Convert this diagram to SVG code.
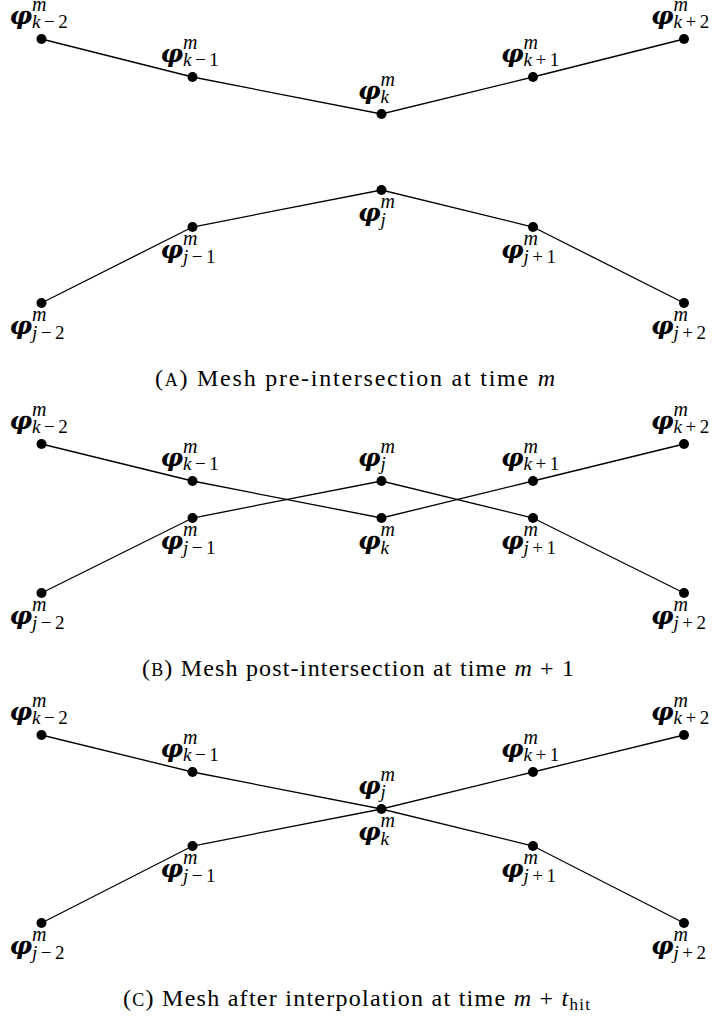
<svg xmlns="http://www.w3.org/2000/svg" width="712" height="1017" viewBox="0 0 712 1017">
<style>
.bg{fill:#fff}
.n circle{fill:#000}
.lb{font-family:"Liberation Serif","DejaVu Serif",serif;font-size:19px;fill:#000}
.phi{font-family:"DejaVu Serif","Liberation Serif",serif;font-weight:bold;font-style:italic;font-size:25px;text-anchor:end}
.sup{font-size:20px;font-style:italic;text-anchor:start}
.sub{letter-spacing:3.5px;text-anchor:start}
.it{font-style:italic}
.cap{font-family:"Liberation Serif",serif;font-size:24px;fill:#000;text-anchor:middle}
.small{font-size:18px}
.edges path{fill:none;stroke:#000;stroke-width:1.3}
</style>
<rect class="bg" width="712" height="1017"/>
<g class="edges" id="connectors">
<path d="M41.5,39 L192.5,77 L381.5,114 L533,77 L684,39"/>
<path d="M41.5,303 L192.5,227 L381.5,190 L533,227 L684,303"/>
<path d="M41.5,444 L192.5,481 L381.5,518 L533,481 L684,444"/>
<path d="M41.5,593 L192.5,518 L381.5,481 L533,518 L684,593"/>
<path d="M41.5,735 L192.5,772 L381.5,809 L533,772 L684,735"/>
<path d="M41.5,923 L192.5,846 L381.5,809 L533,846 L684,923"/>
</g>
<!-- Panel A -->
<g class="n" id="a-km2"><circle cx="41.5" cy="39" r="5"/><text class="lb"><tspan class="phi" x="32" y="24">φ</tspan><tspan class="sup" x="32" y="11">m</tspan><tspan class="sub" x="32" y="28"><tspan class="it">k</tspan>−2</tspan></text></g>
<g class="n" id="a-km1"><circle cx="192.5" cy="77" r="5"/><text class="lb"><tspan class="phi" x="183" y="62">φ</tspan><tspan class="sup" x="183" y="49">m</tspan><tspan class="sub" x="183" y="66"><tspan class="it">k</tspan>−1</tspan></text></g>
<g class="n" id="a-k"><circle cx="381.5" cy="114" r="5"/><text class="lb"><tspan class="phi" x="380.5" y="99">φ</tspan><tspan class="sup" x="380.5" y="86">m</tspan><tspan class="it sub" x="380.5" y="103">k</tspan></text></g>
<g class="n" id="a-kp1"><circle cx="533" cy="77" r="5"/><text class="lb"><tspan class="phi" x="523.5" y="62">φ</tspan><tspan class="sup" x="523.5" y="49">m</tspan><tspan class="sub" x="523.5" y="66"><tspan class="it">k</tspan>+1</tspan></text></g>
<g class="n" id="a-kp2"><circle cx="684" cy="39" r="5"/><text class="lb"><tspan class="phi" x="673.5" y="24">φ</tspan><tspan class="sup" x="673.5" y="11">m</tspan><tspan class="sub" x="673.5" y="28"><tspan class="it">k</tspan>+2</tspan></text></g>
<g class="n" id="a-j"><circle cx="381.5" cy="190" r="5"/><text class="lb"><tspan class="phi" x="380.5" y="221">φ</tspan><tspan class="sup" x="380.5" y="208">m</tspan><tspan class="it sub" x="380.5" y="226">j</tspan></text></g>
<g class="n" id="a-jm1"><circle cx="192.5" cy="227" r="5"/><text class="lb"><tspan class="phi" x="183" y="258">φ</tspan><tspan class="sup" x="183" y="245">m</tspan><tspan class="sub" x="183" y="263"><tspan class="it">j</tspan>−1</tspan></text></g>
<g class="n" id="a-jp1"><circle cx="533" cy="227" r="5"/><text class="lb"><tspan class="phi" x="523.5" y="258">φ</tspan><tspan class="sup" x="523.5" y="245">m</tspan><tspan class="sub" x="523.5" y="263"><tspan class="it">j</tspan>+1</tspan></text></g>
<g class="n" id="a-jm2"><circle cx="41.5" cy="303" r="5"/><text class="lb"><tspan class="phi" x="32" y="334">φ</tspan><tspan class="sup" x="32" y="321">m</tspan><tspan class="sub" x="32" y="339"><tspan class="it">j</tspan>−2</tspan></text></g>
<g class="n" id="a-jp2"><circle cx="684" cy="303" r="5"/><text class="lb"><tspan class="phi" x="673.5" y="334">φ</tspan><tspan class="sup" x="673.5" y="321">m</tspan><tspan class="sub" x="673.5" y="339"><tspan class="it">j</tspan>+2</tspan></text></g>
<text class="cap" id="cap-a" x="355" y="386" textLength="400" lengthAdjust="spacing">(<tspan class="small">A</tspan>) Mesh pre-intersection at time <tspan class="it">m</tspan></text>
<!-- Panel B -->
<g class="n" id="b-km2"><circle cx="41.5" cy="444" r="5"/><text class="lb"><tspan class="phi" x="32" y="429">φ</tspan><tspan class="sup" x="32" y="416">m</tspan><tspan class="sub" x="32" y="433"><tspan class="it">k</tspan>−2</tspan></text></g>
<g class="n" id="b-km1"><circle cx="192.5" cy="481" r="5"/><text class="lb"><tspan class="phi" x="183" y="466">φ</tspan><tspan class="sup" x="183" y="453">m</tspan><tspan class="sub" x="183" y="470"><tspan class="it">k</tspan>−1</tspan></text></g>
<g class="n" id="b-j"><circle cx="381.5" cy="481" r="5"/><text class="lb"><tspan class="phi" x="380.5" y="466">φ</tspan><tspan class="sup" x="380.5" y="453">m</tspan><tspan class="it sub" x="380.5" y="470">j</tspan></text></g>
<g class="n" id="b-kp1"><circle cx="533" cy="481" r="5"/><text class="lb"><tspan class="phi" x="523.5" y="466">φ</tspan><tspan class="sup" x="523.5" y="453">m</tspan><tspan class="sub" x="523.5" y="470"><tspan class="it">k</tspan>+1</tspan></text></g>
<g class="n" id="b-kp2"><circle cx="684" cy="444" r="5"/><text class="lb"><tspan class="phi" x="673.5" y="429">φ</tspan><tspan class="sup" x="673.5" y="416">m</tspan><tspan class="sub" x="673.5" y="433"><tspan class="it">k</tspan>+2</tspan></text></g>
<g class="n" id="b-jm1"><circle cx="192.5" cy="518" r="5"/><text class="lb"><tspan class="phi" x="183" y="549">φ</tspan><tspan class="sup" x="183" y="536">m</tspan><tspan class="sub" x="183" y="554"><tspan class="it">j</tspan>−1</tspan></text></g>
<g class="n" id="b-k"><circle cx="381.5" cy="518" r="5"/><text class="lb"><tspan class="phi" x="380.5" y="549">φ</tspan><tspan class="sup" x="380.5" y="536">m</tspan><tspan class="it sub" x="380.5" y="554">k</tspan></text></g>
<g class="n" id="b-jp1"><circle cx="533" cy="518" r="5"/><text class="lb"><tspan class="phi" x="523.5" y="549">φ</tspan><tspan class="sup" x="523.5" y="536">m</tspan><tspan class="sub" x="523.5" y="554"><tspan class="it">j</tspan>+1</tspan></text></g>
<g class="n" id="b-jm2"><circle cx="41.5" cy="593" r="5"/><text class="lb"><tspan class="phi" x="32" y="624">φ</tspan><tspan class="sup" x="32" y="611">m</tspan><tspan class="sub" x="32" y="629"><tspan class="it">j</tspan>−2</tspan></text></g>
<g class="n" id="b-jp2"><circle cx="684" cy="593" r="5"/><text class="lb"><tspan class="phi" x="673.5" y="624">φ</tspan><tspan class="sup" x="673.5" y="611">m</tspan><tspan class="sub" x="673.5" y="629"><tspan class="it">j</tspan>+2</tspan></text></g>
<text class="cap" id="cap-b" x="358" y="676" textLength="432" lengthAdjust="spacing">(<tspan class="small">B</tspan>) Mesh post-intersection at time <tspan class="it">m</tspan> + 1</text>
<!-- Panel C -->
<g class="n" id="c-km2"><circle cx="41.5" cy="735" r="5"/><text class="lb"><tspan class="phi" x="32" y="720">φ</tspan><tspan class="sup" x="32" y="707">m</tspan><tspan class="sub" x="32" y="724"><tspan class="it">k</tspan>−2</tspan></text></g>
<g class="n" id="c-km1"><circle cx="192.5" cy="772" r="5"/><text class="lb"><tspan class="phi" x="183" y="757">φ</tspan><tspan class="sup" x="183" y="744">m</tspan><tspan class="sub" x="183" y="761"><tspan class="it">k</tspan>−1</tspan></text></g>
<g class="n" id="c-j"><circle cx="381.5" cy="809" r="5"/><text class="lb"><tspan class="phi" x="380.5" y="794">φ</tspan><tspan class="sup" x="380.5" y="781">m</tspan><tspan class="it sub" x="380.5" y="798">j</tspan></text></g>
<g class="n" id="c-kp1"><circle cx="533" cy="772" r="5"/><text class="lb"><tspan class="phi" x="523.5" y="757">φ</tspan><tspan class="sup" x="523.5" y="744">m</tspan><tspan class="sub" x="523.5" y="761"><tspan class="it">k</tspan>+1</tspan></text></g>
<g class="n" id="c-kp2"><circle cx="684" cy="735" r="5"/><text class="lb"><tspan class="phi" x="673.5" y="720">φ</tspan><tspan class="sup" x="673.5" y="707">m</tspan><tspan class="sub" x="673.5" y="724"><tspan class="it">k</tspan>+2</tspan></text></g>
<g class="n" id="c-k"><text class="lb"><tspan class="phi" x="380.5" y="840">φ</tspan><tspan class="sup" x="380.5" y="827">m</tspan><tspan class="it sub" x="380.5" y="845">k</tspan></text></g>
<g class="n" id="c-jm1"><circle cx="192.5" cy="846" r="5"/><text class="lb"><tspan class="phi" x="183" y="877">φ</tspan><tspan class="sup" x="183" y="864">m</tspan><tspan class="sub" x="183" y="882"><tspan class="it">j</tspan>−1</tspan></text></g>
<g class="n" id="c-jp1"><circle cx="533" cy="846" r="5"/><text class="lb"><tspan class="phi" x="523.5" y="877">φ</tspan><tspan class="sup" x="523.5" y="864">m</tspan><tspan class="sub" x="523.5" y="882"><tspan class="it">j</tspan>+1</tspan></text></g>
<g class="n" id="c-jm2"><circle cx="41.5" cy="923" r="5"/><text class="lb"><tspan class="phi" x="32" y="954">φ</tspan><tspan class="sup" x="32" y="941">m</tspan><tspan class="sub" x="32" y="959"><tspan class="it">j</tspan>−2</tspan></text></g>
<g class="n" id="c-jp2"><circle cx="684" cy="923" r="5"/><text class="lb"><tspan class="phi" x="673.5" y="954">φ</tspan><tspan class="sup" x="673.5" y="941">m</tspan><tspan class="sub" x="673.5" y="959"><tspan class="it">j</tspan>+2</tspan></text></g>
<text class="cap" id="cap-c" x="356.5" y="1006" textLength="467" lengthAdjust="spacing">(<tspan class="small">C</tspan>) Mesh after interpolation at time <tspan class="it">m</tspan> + <tspan class="it">t</tspan><tspan font-size="17px" dy="4">hit</tspan></text>
</svg>
